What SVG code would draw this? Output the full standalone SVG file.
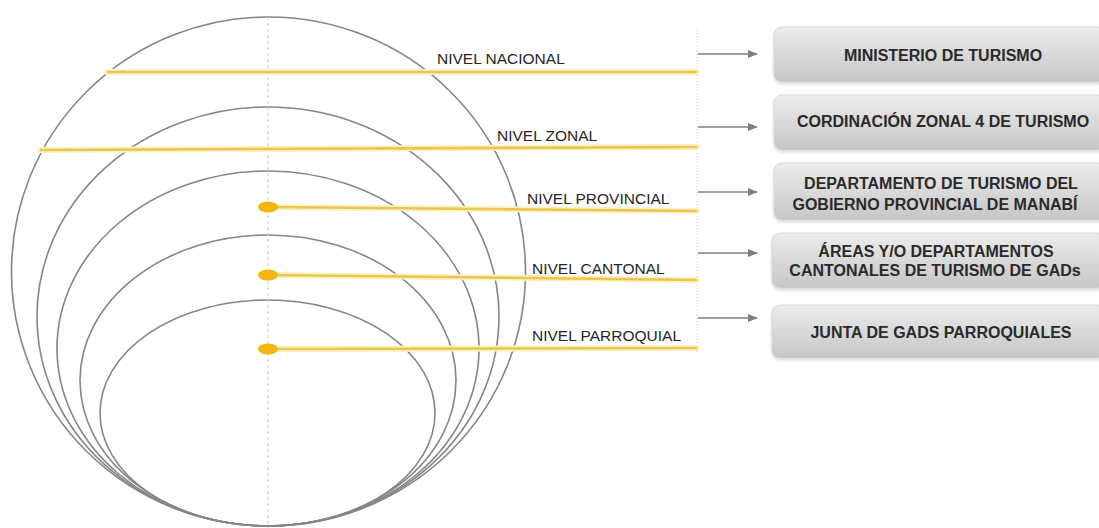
<svg xmlns="http://www.w3.org/2000/svg" width="1099" height="528" viewBox="0 0 1099 528">
<style>
.ring{fill:none;stroke:#868686;stroke-width:1.6}
.halo{stroke:#fbf1c4;stroke-width:6;stroke-linecap:round;fill:none}
.yl{stroke:#e9c650;stroke-width:2.6;fill:none}
.dot{fill:#f3b710}
.lbl{font-family:"Liberation Sans",Arial,sans-serif;font-size:15.5px;fill:#262626}
.box{fill:url(#g);stroke:#d4d4d4;stroke-width:0.8;filter:url(#sh)}
.bt{font-family:"Liberation Sans",Arial,sans-serif;font-size:16px;font-weight:bold;fill:#2a2a2a;text-anchor:middle}
.arr{stroke:#7f7f7f;stroke-width:1.5;fill:none;marker-end:url(#ah)}
</style>
<defs>
<linearGradient id="g" x1="0" y1="0" x2="0" y2="1">
<stop offset="0" stop-color="#ececec"/>
<stop offset="1" stop-color="#c6c6c6"/>
</linearGradient>
<filter id="sh" x="-5%" y="-20%" width="110%" height="150%">
<feDropShadow dx="0" dy="1.5" stdDeviation="1.5" flood-color="#000" flood-opacity="0.18"/>
</filter>
<marker id="ah" markerWidth="10" markerHeight="8" refX="9" refY="4" orient="auto" markerUnits="userSpaceOnUse">
<path d="M0,0 L10,4 L0,8 Z" fill="#7f7f7f"/>
</marker>
</defs>
<rect width="1099" height="528" fill="#fff"/>

<g id="rings">
<ellipse class="ring" cx="268.5" cy="271.5" rx="257" ry="254.5"/>
<ellipse class="ring" cx="268" cy="316.5" rx="231" ry="209.5"/>
<ellipse class="ring" cx="268" cy="348.5" rx="211" ry="177.5"/>
<ellipse class="ring" cx="268" cy="380.5" rx="188" ry="145.5"/>
<ellipse class="ring" cx="267.5" cy="413" rx="167.5" ry="113"/>
<line x1="268" y1="17" x2="268" y2="528" stroke="#c9c9c9" stroke-width="1" stroke-dasharray="3 3"/>
<line x1="697" y1="30" x2="697" y2="352" stroke="#d2d2d2" stroke-width="1" stroke-dasharray="1 2"/>
</g>

<g id="nivel-nacional">
<line class="halo" x1="107" y1="72" x2="697" y2="72"/>
<line class="yl" x1="107" y1="72" x2="697" y2="72"/>
<text class="lbl" x="437" y="64">NIVEL NACIONAL</text>
</g>
<g id="nivel-zonal">
<line class="halo" x1="40" y1="150" x2="697" y2="147"/>
<line class="yl" x1="40" y1="150" x2="697" y2="147"/>
<text class="lbl" x="497" y="141">NIVEL ZONAL</text>
</g>
<g id="nivel-provincial">
<line class="halo" x1="268" y1="207" x2="697" y2="211"/>
<line class="yl" x1="268" y1="207" x2="697" y2="211"/>
<ellipse class="dot" cx="268" cy="207" rx="10" ry="5.5"/>
<text class="lbl" x="527" y="204">NIVEL PROVINCIAL</text>
</g>
<g id="nivel-cantonal">
<line class="halo" x1="268" y1="275" x2="697" y2="280"/>
<line class="yl" x1="268" y1="275" x2="697" y2="280"/>
<ellipse class="dot" cx="268" cy="275" rx="10" ry="5.5"/>
<text class="lbl" x="532" y="274">NIVEL CANTONAL</text>
</g>
<g id="nivel-parroquial">
<line class="halo" x1="268" y1="349" x2="697" y2="348"/>
<line class="yl" x1="268" y1="349" x2="697" y2="348"/>
<ellipse class="dot" cx="268" cy="349" rx="10" ry="5.5"/>
<text class="lbl" x="532" y="341">NIVEL PARROQUIAL</text>
</g>

<g id="connectors">
<line class="arr" x1="698" y1="54" x2="757" y2="54"/>
<line class="arr" x1="698" y1="127" x2="757" y2="127"/>
<line class="arr" x1="698" y1="192" x2="757" y2="192"/>
<line class="arr" x1="698" y1="253" x2="757" y2="253"/>
<line class="arr" x1="698" y1="318" x2="757" y2="318"/>
</g>

<g id="ministerio">
<rect class="box" x="774" y="27" width="332" height="55" rx="8"/>
<text class="bt" x="943" y="61">MINISTERIO DE TURISMO</text>
</g>
<g id="cordinacion">
<rect class="box" x="774" y="95" width="332" height="55" rx="8"/>
<text class="bt" x="943" y="127">CORDINACIÓN ZONAL 4 DE TURISMO</text>
</g>
<g id="departamento">
<rect class="box" x="774" y="163" width="332" height="57" rx="8"/>
<text class="bt" x="941" y="189">DEPARTAMENTO DE TURISMO DEL</text>
<text class="bt" x="935" y="210">GOBIERNO PROVINCIAL DE MANABÍ</text>
</g>
<g id="areas">
<rect class="box" x="772" y="233" width="334" height="55" rx="8"/>
<text class="bt" x="936" y="257">ÁREAS Y/O DEPARTAMENTOS</text>
<text class="bt" x="935" y="276">CANTONALES DE TURISMO DE GADs</text>
</g>
<g id="junta">
<rect class="box" x="772" y="305" width="334" height="53" rx="8"/>
<text class="bt" x="941" y="338">JUNTA DE GADS PARROQUIALES</text>
</g>
</svg>
